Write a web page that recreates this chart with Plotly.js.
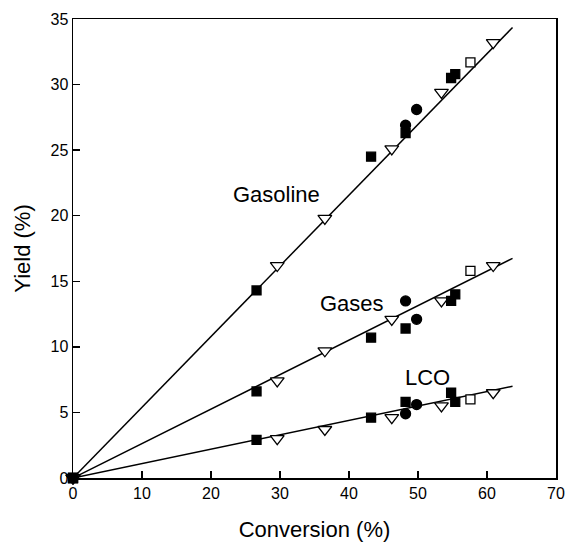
<!DOCTYPE html>
<html>
<head>
<meta charset="utf-8">
<script src="https://cdn.plot.ly/plotly-3.0.1.min.js"></script>
<style>html,body{margin:0;padding:0;background:#fff;}#chart{width:566px;height:542px;}</style>
</head>
<body>
<div id="chart"></div>
<script>
// Filled squares
var sqX = [0, 26.6, 43.2, 48.2, 54.8, 55.4];
var sqGasoline = [0, 14.3, 24.5, 26.3, 30.5, 30.8];
var sqGases = [0, 6.6, 10.7, 11.4, 13.5, 14.0];
var sqLCO = [0, 2.9, 4.6, 5.8, 6.5, 5.8];

// Filled circles
var circX = [48.2, 49.8];
var circGasoline = [26.9, 28.1];
var circGases = [13.5, 12.1];
var circLCO = [4.9, 5.6];

// Open down-triangles
var triX = [0, 29.6, 36.5, 46.2, 53.4, 60.9];
var triGasoline = [0, 16.2, 19.8, 25.1, 29.4, 33.2];
var triGases = [0, 7.4, 9.7, 12.1, 13.5, 16.2];
var triLCO = [0, 3.0, 3.7, 4.6, 5.5, 6.5];

// Open square
var osqX = [57.6];
var osqGasoline = [31.7];
var osqGases = [15.8];
var osqLCO = [6.0];

// Fitted lines
var fitX = [0, 63.7];
var fitGasoline = [0, 34.35];
var fitGases = [0, 16.75];
var fitLCO = [0, 7.0];

// Labels
var productLabels = ["Gasoline", "Gases", "LCO"];
var labelX = [29.5, 40.5, 51.4];
var labelY = [21.6, 13.3, 7.7];

var xTicks = [0, 10, 20, 30, 40, 50, 60, 70];
var yTicks = [0, 5, 10, 15, 20, 25, 30, 35];

var traces = [];
[fitGasoline, fitGases, fitLCO].forEach(function (fy) {
  traces.push({x: fitX, y: fy, mode: 'lines', line: {color: '#000', width: 1.5}, hoverinfo: 'skip'});
});
function addMarkers(xs, ys, sym, sz, fill) {
  traces.push({
    x: xs, y: ys, mode: 'markers', cliponaxis: false,
    marker: {symbol: sym, size: sz, color: fill ? '#000' : '#fff', line: {color: '#000', width: 1.3}}
  });
}
[triGasoline, triGases, triLCO].forEach(function (ys) { addMarkers(triX, ys, 'triangle-down', 12, false); });
[osqGasoline, osqGases, osqLCO].forEach(function (ys) { addMarkers(osqX, ys, 'square', 9, false); });
[sqGasoline, sqGases, sqLCO].forEach(function (ys) { addMarkers(sqX, ys, 'square', 9, true); });
[circGasoline, circGases, circLCO].forEach(function (ys) { addMarkers(circX, ys, 'circle', 10, true); });

var annotations = productLabels.map(function (t, i) {
  return {x: labelX[i], y: labelY[i], text: t, showarrow: false, xanchor: 'center', yanchor: 'middle',
          font: {size: 22, color: '#000', family: 'Liberation Sans, Arial, sans-serif'}};
});

var layout = {
  width: 566, height: 542,
  margin: {l: 72.6, r: 10, t: 19, b: 64, pad: 0},
  paper_bgcolor: '#fff', plot_bgcolor: '#fff',
  showlegend: false,
  font: {family: 'Liberation Sans, Arial, sans-serif', color: '#000'},
  xaxis: {
    range: [0, 70], tickvals: xTicks, ticktext: xTicks.map(String),
    ticks: 'inside', ticklen: 7, tickwidth: 1.3, tickcolor: '#000',
    showline: true, linecolor: '#000', linewidth: 1.5, mirror: true,
    showgrid: false, zeroline: false,
    tickfont: {size: 16},
    title: {text: 'Conversion (%)', font: {size: 22}, standoff: 22}
  },
  yaxis: {
    range: [0, 35], tickvals: yTicks, ticktext: yTicks.map(String),
    ticks: 'inside', ticklen: 7, tickwidth: 1.3, tickcolor: '#000',
    showline: true, linecolor: '#000', linewidth: 1.5, mirror: true,
    showgrid: false, zeroline: false,
    tickfont: {size: 16},
    title: {text: 'Yield (%)', font: {size: 22}, standoff: 14}
  },
  annotations: annotations
};

Plotly.newPlot('chart', traces, layout, {displayModeBar: false, staticPlot: true});
</script>
</body>
</html>
